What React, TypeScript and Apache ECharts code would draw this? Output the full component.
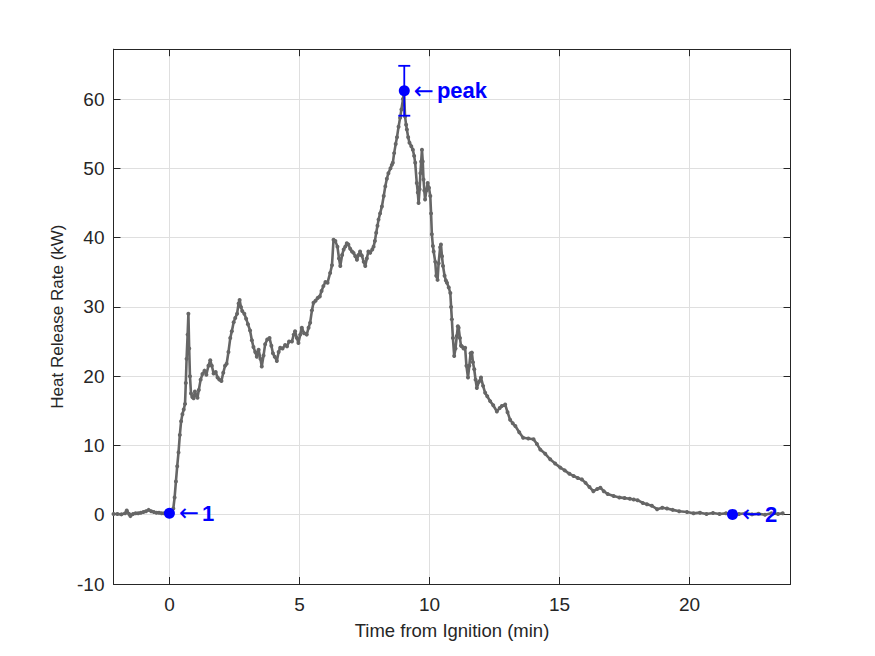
import React, { useEffect, useRef } from "react";
import * as echarts from "echarts";

const timeMin: number[] = [
  -2.15, -2.0, -1.85, -1.7, -1.64, -1.55, -1.5, -1.4, -1.3, -1.2, -1.1, -1.0, -0.9, -0.8, -0.7, -0.6, -0.5, -0.4, -0.3, -0.2, -0.1, 0,
  0.1, 0.15, 0.2, 0.25, 0.3, 0.35, 0.4, 0.45, 0.5, 0.55, 0.6, 0.63, 0.66, 0.7, 0.73, 0.76, 0.79, 0.83, 0.88, 0.93, 0.98, 1.03, 1.08, 1.13,
  1.2, 1.27, 1.35, 1.42, 1.5, 1.57, 1.63, 1.7, 1.78, 1.85, 1.92, 2.0, 2.07, 2.14, 2.2, 2.27, 2.34, 2.4, 2.47, 2.53, 2.6, 2.66, 2.7, 2.75,
  2.8, 2.88, 2.95, 3.02, 3.1, 3.17, 3.23, 3.3, 3.36, 3.43, 3.5, 3.55, 3.62, 3.68, 3.76, 3.85, 3.92, 3.98, 4.05, 4.13, 4.2, 4.26, 4.35,
  4.45, 4.52, 4.6, 4.71, 4.78, 4.83, 4.9, 4.96, 5.03, 5.09, 5.18, 5.28, 5.35, 5.41, 5.48, 5.54, 5.62, 5.7, 5.78, 5.85, 5.92, 6.0, 6.08,
  6.18, 6.25, 6.31, 6.38, 6.46, 6.52, 6.57, 6.64, 6.7, 6.76, 6.82, 6.88, 6.95, 7.02, 7.08, 7.15, 7.21, 7.27, 7.33, 7.4, 7.47, 7.53, 7.59,
  7.65, 7.72, 7.8, 7.85, 7.9, 7.95, 8.0, 8.04, 8.1, 8.17, 8.24, 8.3, 8.36, 8.42, 8.5, 8.55, 8.59, 8.64, 8.7, 8.75, 8.81, 8.87, 8.92, 8.98,
  9.02, 9.06, 9.1, 9.13, 9.18, 9.23, 9.3, 9.36, 9.41, 9.45, 9.51, 9.55, 9.58, 9.62, 9.65, 9.68, 9.71, 9.74, 9.77, 9.8, 9.83, 9.88, 9.93,
  9.98, 10.03, 10.06, 10.09, 10.13, 10.16, 10.22, 10.26, 10.31, 10.35, 10.41, 10.44, 10.48, 10.52, 10.58, 10.63, 10.67, 10.74, 10.8,
  10.83, 10.86, 10.9, 10.95, 11.0, 11.05, 11.09, 11.12, 11.17, 11.21, 11.25, 11.31, 11.37, 11.42, 11.48, 11.53, 11.58, 11.63, 11.67,
  11.72, 11.77, 11.82, 11.9, 11.98, 12.06, 12.14, 12.22, 12.33, 12.45, 12.59, 12.7, 12.78, 12.91, 13.0, 13.1, 13.2, 13.3, 13.45, 13.6,
  13.8, 14.0, 14.13, 14.26, 14.45, 14.64, 14.83, 15.03, 15.2, 15.38, 15.54, 15.7, 15.86, 16.0, 16.15, 16.3, 16.45, 16.57, 16.7, 16.85,
  17.08, 17.3, 17.5, 17.7, 17.85, 18.0, 18.2, 18.36, 18.55, 18.75, 18.95, 19.13, 19.35, 19.6, 19.9, 20.15, 20.4, 20.65, 20.9, 21.15,
  21.4, 21.65, 21.9, 22.15, 22.4, 22.65, 22.9, 23.15, 23.4, 23.58,
];

const hrrKW: number[] = [
  0.1, 0.1, 0.05, 0.2, 0.6, 0.1, -0.2, 0.1, 0.2, 0.2, 0.3, 0.4, 0.5, 0.7, 0.5, 0.4, 0.3, 0.3, 0.2, 0.2, 0.1, 0.2,
  0.4, 0.9, 2.5, 4.8, 7.0, 9.0, 11.5, 13.5, 14.5, 15.2, 16.0, 19.0, 22.5, 26.0, 29.0, 24.0, 20.0, 17.5, 17.0, 16.8, 17.8, 17.2, 16.9, 18.0,
  19.5, 20.3, 20.8, 20.2, 21.5, 22.3, 21.5, 20.4, 20.6, 19.8, 19.5, 19.3, 20.5, 21.5, 21.8, 23.5, 25.5, 26.5, 27.8, 28.4, 29.0, 30.5, 31.0, 30.0,
  29.4, 29.0, 28.3, 27.5, 26.6, 25.2, 24.2, 23.5, 22.8, 23.8, 22.5, 21.4, 23.0, 24.6, 25.3, 25.5, 24.4, 23.3, 22.8, 22.2, 23.5, 24.1, 24.0,
  24.5, 24.3, 25.0, 25.0, 26.0, 26.5, 25.5, 24.8, 26.0, 27.0, 26.2, 26.0, 27.0, 27.7, 29.5, 30.6, 30.9, 31.3, 31.5, 32.3, 33.0, 33.6, 33.5,
  34.9, 36.0, 39.7, 39.5, 38.7, 37.0, 35.9, 37.5, 38.3, 38.7, 39.2, 39.0, 38.4, 38.0, 37.8, 37.3, 36.8, 37.5, 38.0, 37.4, 36.5, 35.9, 37.0,
  38.0, 37.8, 38.3, 38.7, 39.5, 40.7, 41.7, 42.6, 43.5, 44.5, 46.0, 47.4, 48.5, 49.3, 50.0, 50.5, 50.8, 52.2, 53.5, 54.5, 56.0, 57.3, 58.5, 60.0,
  61.0, 57.5, 56.3, 55.6, 54.5, 53.7, 53.2, 52.7, 51.8, 50.8, 47.9, 46.5, 45.0, 47.0, 49.3, 51.0, 52.7, 51.0, 48.4, 46.8, 45.5, 46.8, 47.9,
  47.2, 46.0, 43.5, 40.5, 38.8, 38.0, 36.5, 34.5, 33.9, 36.3, 38.6, 39.0, 37.3, 35.9, 34.5, 33.8, 33.5, 32.8, 32.0,
  30.0, 28.2, 25.5, 22.9, 24.0, 25.8, 27.2, 27.0, 25.5, 24.4, 24.3, 24.0, 24.1, 21.5, 19.8, 21.5, 23.3, 23.4, 22.0,
  21.0, 19.5, 18.3, 19.2, 19.8, 18.6, 17.6, 17.1, 16.4, 15.8, 14.9, 15.4, 15.7, 15.9, 14.8, 13.7, 13.2, 12.8, 11.9, 11.1,
  11.0, 10.9, 10.2, 9.4, 8.8, 8.0, 7.4, 6.8, 6.4, 5.9, 5.6, 5.3, 5.1, 4.6, 4.0, 3.4, 3.7, 3.9, 3.4, 3.0,
  2.7, 2.5, 2.4, 2.3, 2.2, 2.1, 1.7, 1.5, 1.3, 0.8, 1.0, 0.9, 0.7, 0.5, 0.4, 0.2, 0.3, 0.1, 0.25, 0.1,
  0.2, 0.0, 0.1, 0.2, 0.05, 0.15, 0.0, 0.2, 0.1, 0.2,
];

const keyNames: string[] = ["1", "peak", "2"];
const keyTimes: number[] = [0, 9.03, 21.65];
const keyValues: number[] = [0.2, 61.2, 0.05];
const peakErrLow: number = 57.6;
const peakErrHigh: number = 64.8;

const xTicks: number[] = [0, 5, 10, 15, 20];
const xMin = -2.15;
const xMax = 23.88;
const yMin = -10;
const yMax = 67.2;

export default function App() {
  const ref = useRef<HTMLDivElement>(null);
  useEffect(() => {
    if (!ref.current) return;
    const chart = echarts.init(ref.current, null, { renderer: "svg" });
    const axisColor = "#262626";
    const font = "'Liberation Sans', Arial, Helvetica, sans-serif";
    const gridColor = "#dfdfdf";
    const lineData = timeMin.map((t, i) => [t, hrrKW[i]]);
    const keyData = keyTimes.map((t, i) => ({ value: [t, keyValues[i]], name: keyNames[i] }));
    chart.setOption({
      animation: false,
      backgroundColor: "#ffffff",
      grid: { left: 113.5, right: 84.5, top: 49.2, bottom: 72, containLabel: false },
      xAxis: [
        {
          type: "value",
          min: xMin,
          max: xMax,
          position: "bottom",
          name: "Time from Ignition (min)",
          nameLocation: "middle",
          nameGap: 37,
          nameTextStyle: { color: axisColor, fontSize: 18.5, fontFamily: font },
          axisLine: { show: true, onZero: false, lineStyle: { color: axisColor, width: 1 } },
          axisTick: { show: true, inside: true, length: 7, customValues: xTicks, lineStyle: { color: axisColor } },
          axisLabel: { show: true, customValues: xTicks, color: axisColor, fontSize: 19, fontFamily: font, margin: 11 },
          splitLine: { show: true, lineStyle: { color: gridColor, width: 1 } },
        },
        {
          type: "value",
          min: xMin,
          max: xMax,
          position: "top",
          axisLine: { show: true, onZero: false, lineStyle: { color: axisColor, width: 1 } },
          axisTick: { show: true, inside: true, length: 7, customValues: xTicks, lineStyle: { color: axisColor } },
          axisLabel: { show: false, customValues: xTicks },
          splitLine: { show: false },
        },
      ],
      yAxis: [
        {
          type: "value",
          min: yMin,
          max: yMax,
          interval: 10,
          position: "left",
          name: "Heat Release Rate (kW)",
          nameLocation: "middle",
          nameGap: 48,
          nameTextStyle: { color: axisColor, fontSize: 17, fontFamily: font },
          axisLine: { show: true, onZero: false, lineStyle: { color: axisColor, width: 1 } },
          axisTick: { show: true, inside: true, length: 7, lineStyle: { color: axisColor } },
          axisLabel: { color: axisColor, fontSize: 19, fontFamily: font, margin: 9, showMaxLabel: false },
          splitLine: { show: true, lineStyle: { color: gridColor, width: 1 } },
        },
        {
          type: "value",
          min: yMin,
          max: yMax,
          interval: 10,
          position: "right",
          axisLine: { show: true, onZero: false, lineStyle: { color: axisColor, width: 1 } },
          axisTick: { show: true, inside: true, length: 7, lineStyle: { color: axisColor } },
          axisLabel: { show: false },
          splitLine: { show: false },
        },
      ],
      series: [
        {
          type: "line",
          data: lineData,
          xAxisIndex: 0,
          yAxisIndex: 0,
          symbol: "circle",
          symbolSize: 4,
          showSymbol: true,
          showAllSymbol: true,
          itemStyle: { color: "#666666" },
          lineStyle: { color: "#666666", width: 2.6 },
          silent: true,
          z: 3,
        },
        {
          type: "custom",
          xAxisIndex: 0,
          yAxisIndex: 0,
          data: [[keyTimes[1], peakErrLow, peakErrHigh]],
          encode: { x: 0, y: [1, 2] },
          renderItem: (params: any, api: any) => {
            const x = api.value(0);
            const lo = api.coord([x, api.value(1)]);
            const hi = api.coord([x, api.value(2)]);
            const hw = 6;
            const style = { stroke: "#0000ff", lineWidth: 1.8 };
            return {
              type: "group",
              children: [
                { type: "line", shape: { x1: lo[0], y1: lo[1], x2: hi[0], y2: hi[1] }, style },
                { type: "line", shape: { x1: lo[0] - hw, y1: lo[1], x2: lo[0] + hw, y2: lo[1] }, style },
                { type: "line", shape: { x1: hi[0] - hw, y1: hi[1], x2: hi[0] + hw, y2: hi[1] }, style },
              ],
            };
          },
          z: 4,
        },
        {
          type: "scatter",
          xAxisIndex: 0,
          yAxisIndex: 0,
          data: keyData,
          symbol: "circle",
          symbolSize: 11,
          itemStyle: { color: "#0000ff", opacity: 1 },
          label: {
            show: true,
            position: "right",
            distance: 4,
            formatter: (p: any) => `{a|←}{b|${p.name}}`,
            rich: {
              a: { color: "#0000ff", fontSize: 24, fontFamily: "'DejaVu Sans', sans-serif", fontWeight: "normal" },
              b: { color: "#0000ff", fontSize: 22, fontFamily: font, fontWeight: "bold", padding: [0, 0, 0, 3] },
            },
          },
          z: 5,
        },
      ],
    });
    return () => chart.dispose();
  }, []);
  return (
    <div
      ref={ref}
      style={{ position: "fixed", left: 0, top: 0, width: 875, height: 656, background: "#ffffff" }}
    />
  );
}
